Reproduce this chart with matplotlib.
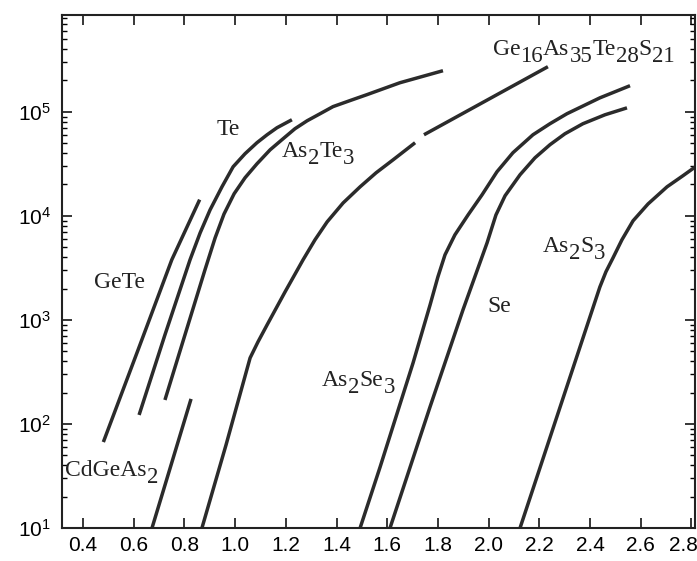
import numpy as np
import matplotlib
matplotlib.use("Agg")
import matplotlib.pyplot as plt
import matplotlib.transforms as mtransforms
from matplotlib.ticker import LogLocator, NullFormatter, FixedLocator

plt.rcParams['font.family'] = ['Liberation Sans', 'DejaVu Sans']
plt.rcParams['mathtext.default'] = 'regular'

# absorption edge curves: photon energy (eV) vs absorption coefficient (cm^-1)
gete_x = [0.48, 0.617, 0.75, 0.86]
gete_y = [67, 515, 3780, 14300]

te_x = [0.621, 0.723, 0.822, 0.862, 0.901, 0.948, 0.992, 1.039, 1.086,
        1.126, 1.165, 1.224]
te_y = [122, 718, 3780, 6870, 11400, 19000, 29600, 39500, 50400,
        60100, 70200, 83800]

as2te3_x = [0.723, 0.881, 0.921, 0.956, 0.996, 1.039, 1.086, 1.138, 1.189,
            1.236, 1.284, 1.335, 1.386, 1.453, 1.520, 1.650, 1.820]
as2te3_y = [170, 3030, 6140, 10400, 16300, 23200, 31600, 43100, 55000,
            68700, 81900, 95700, 112000, 128000, 146000, 190000, 248000]

cdgeas2_x = [0.672, 0.826]
cdgeas2_y = [10, 174]

# Ge16As35Te28S21 is drawn in two pieces with a small break
gast_x1 = [0.869, 0.964, 1.059, 1.090, 1.126, 1.197, 1.268, 1.315, 1.363,
           1.426, 1.493, 1.556, 1.623, 1.710]
gast_y1 = [10, 62.8, 431, 614, 895, 1860, 3780, 5880, 8750,
           13300, 19000, 25900, 34500, 50400]
gast_x2 = [1.745, 2.234]
gast_y2 = [60100, 271000]

as2se3_x = [1.493, 1.572, 1.702, 1.769, 1.800, 1.828, 1.867, 1.919, 1.974,
            2.033, 2.096, 2.175, 2.242, 2.309, 2.439, 2.558]
as2se3_y = [10, 38.6, 386, 1390, 2590, 4220, 6560, 10200, 15900,
            26500, 40400, 60100, 76700, 95700, 136000, 178000]

se_x = [1.611, 1.769, 1.899, 1.994, 2.029, 2.065, 2.124, 2.183, 2.242,
        2.301, 2.372, 2.459, 2.546]
se_y = [10, 146, 1250, 5500, 10200, 15600, 24800, 36100, 48200,
        61400, 76700, 93500, 109000]

as2s3_x = [2.124, 2.439, 2.463, 2.491, 2.526, 2.570, 2.629, 2.704, 2.767, 2.822]
as2s3_y = [10, 2070, 2900, 3950, 5880, 8960, 13000, 19000, 24300, 30300]

xticks = [0.4, 0.6, 0.8, 1.0, 1.2, 1.4, 1.6, 1.8, 2.0, 2.2, 2.4, 2.6, 2.8]

fig = plt.figure(figsize=(6.97, 5.61), dpi=100)
ax = fig.add_axes([0.089, 0.0588, 0.908, 0.9144])

curves = [(gete_x, gete_y), (te_x, te_y), (as2te3_x, as2te3_y),
          (cdgeas2_x, cdgeas2_y), (gast_x1, gast_y1), (gast_x2, gast_y2),
          (as2se3_x, as2se3_y), (se_x, se_y), (as2s3_x, as2s3_y)]
for cx, cy in curves:
    ax.plot(cx, cy, color='#2b2b2b', lw=2.5, solid_joinstyle='round',
            solid_capstyle='butt')

ax.set_yscale('log')
ax.set_xlim(0.317, 2.814)
ax.set_ylim(10, 8.5e5)

ax.xaxis.set_major_locator(FixedLocator(xticks))
ax.set_xticklabels(['%.1f' % v for v in xticks])
ax.yaxis.set_major_locator(LogLocator(base=10, numticks=10))
ax.yaxis.set_minor_locator(LogLocator(base=10, subs=np.arange(2, 10), numticks=20))
ax.yaxis.set_minor_formatter(NullFormatter())

ax.tick_params(which='major', direction='in', length=7, width=1.1,
               top=True, right=True, labelsize=15, pad=6)
ax.tick_params(which='minor', direction='in', length=3.5, width=1.0,
               right=True)
ax.tick_params(axis='y', pad=8)
for s in ax.spines.values():
    s.set_linewidth(1.5)
    s.set_color('#222222')

# last x label sits tight against the right edge
last = ax.get_xticklabels()[-1]
last.set_transform(last.get_transform() +
                   mtransforms.ScaledTranslation(-0.08, 0, fig.dpi_scale_trans))

serif = ['Liberation Serif', 'DejaVu Serif']
FS = 17


def formula(x, y, parts, drop=5):
    # parts alternate between normal text and subscripts
    t = ax.text(x, y, parts[0], fontsize=FS, family=serif, color='#222222',
                ha='left', va='baseline')
    prev = t
    for i, p in enumerate(parts[1:], start=1):
        dy = -drop if i % 2 == 1 else drop
        prev = ax.annotate(p, xy=(1, 0), xycoords=prev, xytext=(0, dy),
                           textcoords='offset points', ha='left', va='bottom',
                           fontsize=FS - 0.5 if i % 2 == 1 else FS,
                           family=serif, color='#222222')


ax.text(0.542, 2280, 'GeTe', ha='center', va='center', fontsize=FS,
        family=serif, color='#222222')
ax.text(0.972, 67000, 'Te', ha='center', va='center', fontsize=FS,
        family=serif, color='#222222')
ax.text(2.041, 1330, 'Se', ha='center', va='center', fontsize=FS,
        family=serif, color='#222222')
formula(1.185, 36900, ['As', '2', 'Te', '3'])
formula(0.329, 31.6, ['CdGeAs', '2'])
formula(2.017, 353000, ['Ge', '16', 'As', '35', 'Te', '28', 'S', '21'])
formula(1.343, 232, ['As', '2', 'Se', '3'])
formula(2.215, 4510, ['As', '2', 'S', '3'])

fig.savefig('out.png', dpi=100)
